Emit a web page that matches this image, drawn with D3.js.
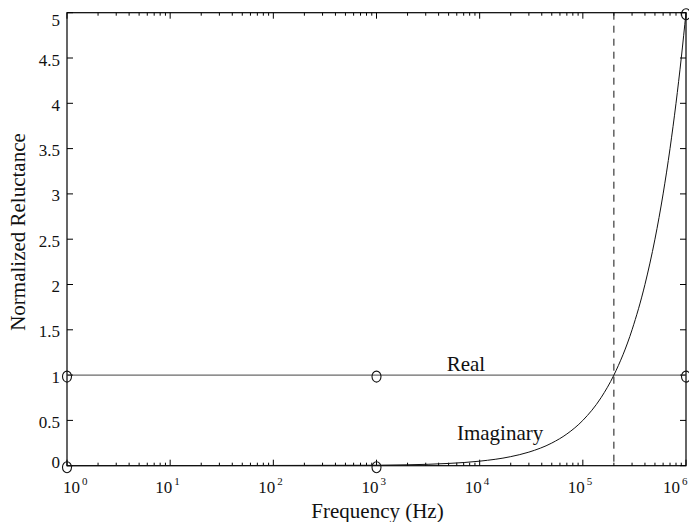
<!DOCTYPE html>
<html>
<head>
<meta charset="utf-8">
<script src="https://cdn.jsdelivr.net/npm/d3@7"></script>
<style>
  body { margin: 0; background: #fff; }
  svg { display: block; }
  text { font-family: "Liberation Serif", "Times New Roman", serif; fill: #111; }
</style>
</head>
<body>
<svg id="chart" width="689" height="522"></svg>
<script>
// values
const imagFreq = [1, 1e3, 2e3, 5e3, 1e4, 2e4, 3e4, 5e4, 7e4, 1e5, 1.5e5, 2e5, 3e5, 4e5, 5e5, 6e5, 7e5, 8e5, 9e5, 1e6];
const imagVals = [0, 0.005, 0.01, 0.025, 0.05, 0.1, 0.15, 0.25, 0.35, 0.5, 0.75, 1.0, 1.5, 2.0, 2.5, 3.0, 3.5, 4.0, 4.5, 5.0];
const realFreq = [1, 1e6];
const realVals = [1, 1];
const markerFreq = [1, 1e3, 1e6];
const realMarkers = [1, 1, 1];
const imagMarkers = [0, 0, 5];
const cutoffFreq = 2e5;
const yTicks = [0, 0.5, 1, 1.5, 2, 2.5, 3, 3.5, 4, 4.5, 5];
const yTickLabels = ["0", "0.5", "1", "1.5", "2", "2.5", "3", "3.5", "4", "4.5", "5"];
const xDecades = [0, 1, 2, 3, 4, 5, 6];

const svg = d3.select("#chart");
const pLeft = 67, pRight = 686, pTop = 12.7, pBottom = 465.7;

const x = d3.scaleLog().domain([1, 1e6]).range([pLeft, pRight]);
const y = d3.scaleLinear().domain([0, 5]).range([pBottom, pTop]);

// minor + major ticks on x (bottom and top, pointing inward)
const minor = [];
xDecades.slice(0, -1).forEach(d => {
    for (let k = 2; k <= 9; k++) minor.push(k * Math.pow(10, d));
});
const g = svg.append("g");
minor.forEach(v => {
    g.append("line").attr("x1", x(v)).attr("x2", x(v)).attr("y1", pBottom).attr("y2", pBottom - 3).attr("stroke", "#000");
    g.append("line").attr("x1", x(v)).attr("x2", x(v)).attr("y1", pTop).attr("y2", pTop + 3).attr("stroke", "#000");
});
xDecades.forEach(d => {
    const v = Math.pow(10, d);
    g.append("line").attr("x1", x(v)).attr("x2", x(v)).attr("y1", pBottom).attr("y2", pBottom - 6).attr("stroke", "#000");
    g.append("line").attr("x1", x(v)).attr("x2", x(v)).attr("y1", pTop).attr("y2", pTop + 6).attr("stroke", "#000");
});
yTicks.forEach(v => {
    g.append("line").attr("x1", pLeft).attr("x2", pLeft + 6).attr("y1", y(v)).attr("y2", y(v)).attr("stroke", "#000");
    g.append("line").attr("x1", pRight).attr("x2", pRight - 6).attr("y1", y(v)).attr("y2", y(v)).attr("stroke", "#000");
});

// x tick labels 10^n
xDecades.forEach((d, i) => {
    let shift = 0;
    if (i === 0) shift = 11;
    if (i === xDecades.length - 1) shift = -8;
    const px = x(Math.pow(10, d)) + shift;
    svg.append("text").attr("x", px + 2).attr("y", 492.7).attr("text-anchor", "end")
        .style("font-size", "17px").text("10");
    svg.append("text").attr("x", px + 4).attr("y", 485).attr("text-anchor", "start")
        .style("font-size", "11px").text(d);
});

// y tick labels
yTicks.forEach((v, i) => {
    let dy = 7.5;
    if (i === 0) dy = 2.5;
    if (i === yTicks.length - 1) dy = 13;
    svg.append("text").attr("x", 60).attr("y", y(v) + dy).attr("text-anchor", "end")
        .style("font-size", "17px").text(yTickLabels[i]);
});

// box
svg.append("rect").attr("x", pLeft).attr("y", pTop).attr("width", pRight - pLeft).attr("height", pBottom - pTop)
    .attr("fill", "none").attr("stroke", "#000").attr("stroke-width", 1.2);

// dashed cutoff
svg.append("line").attr("x1", x(cutoffFreq)).attr("x2", x(cutoffFreq)).attr("y1", pTop).attr("y2", pBottom)
    .attr("stroke", "#111").attr("stroke-dasharray", "7,6");

// real part
const line = d3.line().x(d => x(d[0])).y(d => y(d[1]));
svg.append("path").datum(realFreq.map((f, i) => [f, realVals[i]]))
    .attr("d", line).attr("fill", "none").attr("stroke", "#444").attr("stroke-width", 1);

// imaginary part
svg.append("path").datum(imagFreq.map((f, i) => [f, imagVals[i]]))
    .attr("d", line.curve(d3.curveMonotoneX)).attr("fill", "none").attr("stroke", "#111").attr("stroke-width", 1);

// markers
markerFreq.forEach((f, i) => {
    [realMarkers[i], imagMarkers[i]].forEach(v => {
        svg.append("ellipse").attr("cx", x(f)).attr("cy", y(v) + 1.5).attr("rx", 4.5).attr("ry", 5.5)
            .attr("fill", "none").attr("stroke", "#111").attr("stroke-width", 1.1);
    });
});

// annotations
svg.append("text").attr("x", x(Math.pow(10, 3.68))).attr("y", y(1.05)).style("font-size", "21px").text("Real");
svg.append("text").attr("x", x(Math.pow(10, 3.78))).attr("y", y(0.28)).style("font-size", "21px").text("Imaginary");

// axis titles
svg.append("text").attr("x", (pLeft + pRight) / 2 + 1).attr("y", 518).attr("text-anchor", "middle")
    .style("font-size", "21px").text("Frequency (Hz)");
svg.append("text").attr("transform", "translate(25,232) rotate(-90)")
    .attr("text-anchor", "middle").style("font-size", "21px").text("Normalized Reluctance");
</script>
</body>
</html>
